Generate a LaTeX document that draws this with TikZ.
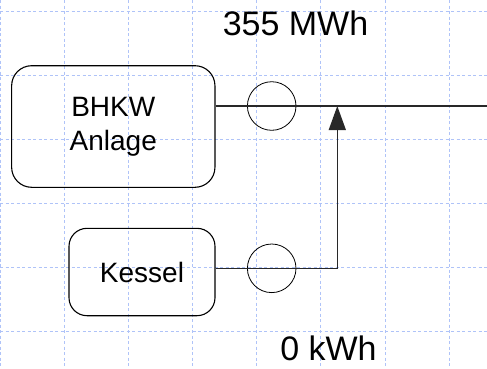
\documentclass[tikz,border=0pt]{standalone}
\usepackage{fontspec}
\setmainfont{Liberation Sans}
\usetikzlibrary{arrows.meta}
\begin{document}
\begin{tikzpicture}[x=1pt,y=-1pt,
  gridline/.style={draw={rgb,255:red,175;green,195;blue,248},line width=0.8pt,dash pattern=on 3pt off 2.5pt},
  unitbox/.style={draw=black,line width=1.1pt,rounded corners=20pt,inner sep=0pt,align=center,font=\fontsize{28}{33.6}\selectfont},
  meter/.style={draw=black,circle,line width=0.8pt,minimum size=48.6pt,inner sep=0pt},
  conn/.style={draw={rgb,255:red,40;green,40;blue,40},line width=1.3pt},
  lbl/.style={anchor=base,inner sep=0pt,font=\fontsize{34}{40}\selectfont}]
\useasboundingbox (0,0) rectangle (487,368);
\fill[white] (0,0) rectangle (487,368);
\foreach \gx in {0.8,64.3,128.3,192.4,256.6,320.8,385,449.2} \draw[gridline] (\gx,0) -- (\gx,368);
\foreach \gy in {11.7,75.7,139.7,203.7,267.7,331.7} \draw[gridline] (0,\gy) -- (487,\gy);
\node[unitbox,minimum width=203.3pt,minimum height=121.6pt] (bhkw) at (113.3,126.5) {BHKW\\Anlage};
\node[unitbox,rounded corners=18pt,minimum width=146pt,minimum height=87.4pt] (kessel) at (142,272) {Kessel};
\coordinate (out) at (487,106);
\coordinate (tip) at (337.3,106);
\node[meter] (m1) at (271.7,106) {};
\node[meter] (m2) at (271.7,268.3) {};
\draw[conn] (bhkw.east |- m1) -- (out);
\draw[conn,-{Triangle[length=24pt,width=17pt]}] (kessel.east |- m2) -| (tip);
\node[lbl] (l1) at (295.5,35) {355 MWh};
\node[lbl] (l2) at (328.5,360.7) {0 kWh};
\end{tikzpicture}
\end{document}
